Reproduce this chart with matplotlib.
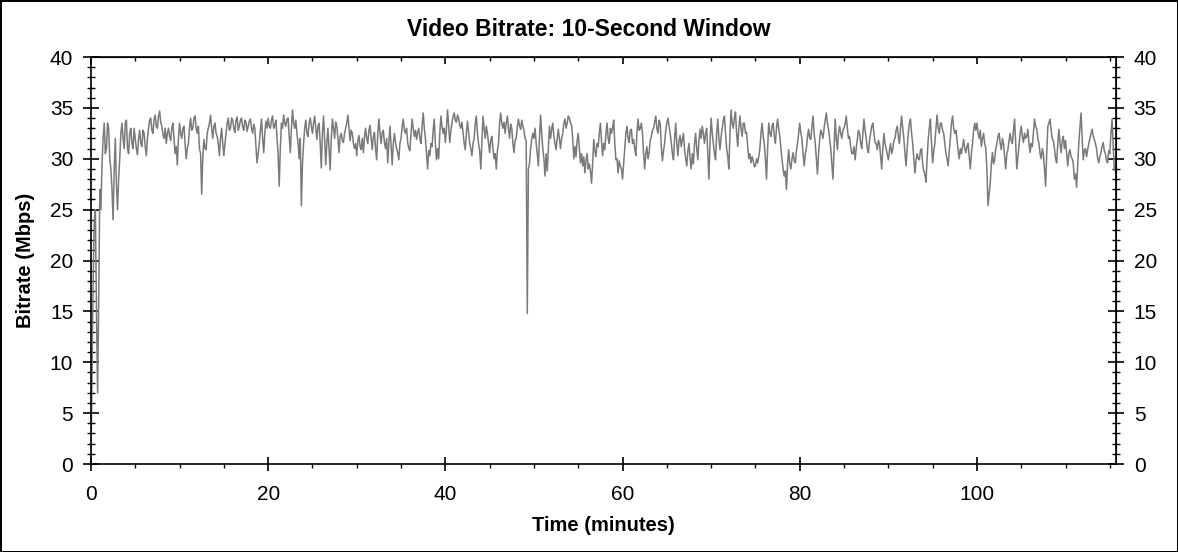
import numpy as np
import matplotlib
matplotlib.use('Agg')
import matplotlib.pyplot as plt
from matplotlib.ticker import MultipleLocator

plt.rcParams['font.family'] = ['Liberation Sans', 'DejaVu Sans']

# bitrate (Mbps); one sample every 0.25 min,
# plus the in-between samples at +0.125 min
step_minutes = 0.25
bitrate = [
    0.5, 18.0, 25.0, 7.0, 27.0, 29.5, 33.5, 31.0, 33.0, 29.0, 24.0, 32.0, 25.0, 30.0, 33.5, 31.0, 33.8, 30.5, 33.0, 31.0,
    32.0, 30.4, 32.8, 31.2, 32.5, 30.3, 33.0, 34.0, 32.5, 34.3, 33.0, 34.7, 33.2, 32.0, 31.5, 33.0, 31.8, 33.5, 30.5, 29.4,
    33.5, 32.0, 33.2, 30.0, 31.5, 34.0, 33.0, 34.2, 32.5, 31.0, 26.5, 31.9, 30.9, 33.0, 34.3, 32.0, 33.5, 32.2, 30.3, 33.0,
    30.3, 32.5, 34.0, 33.0, 33.8, 32.6, 34.1, 33.2, 34.0, 32.8, 33.6, 33.2, 33.9, 32.5, 33.0, 29.6, 31.5, 33.9, 30.6, 33.7,
    34.0, 33.0, 34.2, 33.3, 32.0, 27.3, 33.5, 34.3, 33.2, 34.0, 30.6, 34.8, 33.0, 32.5, 30.0, 25.4, 31.5, 33.8, 32.2, 34.0,
    32.5, 34.2, 31.9, 33.5, 29.1, 34.2, 29.4, 33.0, 28.9, 33.9, 32.0, 33.2, 30.6, 32.5, 31.6, 33.0, 34.3, 31.8, 32.5, 31.0,
    30.3, 32.3, 30.9, 30.6, 33.0, 31.5, 33.3, 30.9, 32.6, 29.9, 33.9, 31.5, 32.8, 31.0, 29.6, 33.2, 29.4, 32.5, 31.0, 29.9,
    32.0, 33.9, 32.5, 31.6, 30.8, 33.9, 32.2, 31.9, 33.0, 31.5, 34.5, 32.0, 29.0, 30.3, 31.2, 33.9, 29.9, 30.0, 34.2, 32.5,
    31.6, 34.8, 31.6, 33.5, 34.5, 33.6, 34.0, 33.0, 32.5, 30.9, 33.7, 31.5, 30.3, 32.0, 34.2, 31.5, 29.0, 34.2, 32.0, 32.5,
    30.6, 32.2, 30.0, 29.0, 31.5, 34.5, 33.0, 32.5, 34.2, 32.0, 33.0, 30.6, 32.0, 33.9, 32.9, 33.2, 32.0, 14.8, 29.5, 31.9,
    32.0, 31.5, 29.3, 34.3, 31.0, 28.3, 28.8, 33.2, 32.9, 32.2, 30.9, 32.9, 31.0, 32.5, 33.9, 33.5, 34.0, 33.3, 30.0, 30.2,
    32.5, 29.6, 29.3, 28.6, 30.5, 29.5, 27.6, 31.9, 30.2, 31.2, 33.5, 30.3, 30.9, 33.5, 31.5, 32.5, 33.8, 29.9, 28.6, 29.3,
    28.0, 31.0, 33.2, 31.6, 32.9, 31.9, 30.3, 33.9, 33.0, 32.5, 29.0, 31.2, 30.6, 32.2, 33.0, 34.2, 32.5, 33.5, 29.8, 31.5,
    33.5, 33.2, 31.6, 29.9, 33.5, 30.3, 32.3, 31.9, 30.9, 29.3, 31.5, 29.0, 29.5, 32.5, 29.9, 32.9, 33.2, 31.5, 33.0, 28.0,
    34.0, 31.5, 29.9, 33.9, 30.9, 33.0, 34.2, 31.0, 29.0, 34.8, 33.0, 34.6, 31.2, 34.2, 32.2, 33.5, 32.6, 30.0, 29.6, 29.8,
    29.3, 29.6, 31.0, 33.5, 31.5, 28.0, 33.5, 32.2, 33.5, 31.5, 33.9, 32.2, 29.9, 28.3, 27.0, 30.9, 29.0, 30.6, 29.6, 31.5,
    33.5, 32.0, 29.3, 31.0, 32.9, 31.9, 34.2, 31.5, 28.5, 31.9, 32.5, 33.0, 34.5, 32.9, 31.0, 28.0, 33.9, 30.9, 33.2, 32.0,
    33.0, 34.2, 32.0, 31.2, 30.5, 29.9, 31.9, 32.5, 31.0, 33.9, 32.0, 30.6, 32.5, 33.5, 31.6, 30.9, 31.5, 29.0, 32.5, 31.0,
    29.9, 31.5, 30.9, 32.0, 33.2, 31.5, 34.2, 32.0, 29.3, 32.5, 33.9, 31.5, 28.6, 30.5, 29.9, 31.0, 28.8, 27.7, 31.9, 33.9,
    29.6, 31.5, 34.3, 32.5, 33.5, 32.5, 30.5, 29.3, 32.0, 34.2, 32.5, 31.9, 30.0, 30.5, 31.9, 30.6, 31.5, 29.0, 31.5, 33.5,
    33.5, 32.0, 31.2, 32.5, 31.0, 25.4, 27.6, 30.6, 29.9, 31.5, 32.5, 30.9, 31.5, 29.0, 30.9, 32.5, 31.5, 33.9, 29.0, 31.5,
    33.2, 31.6, 32.0, 32.9, 30.6, 31.2, 33.9, 32.9, 31.5, 30.0, 30.5, 27.3, 33.2, 33.9, 32.0, 31.0, 29.6, 32.9, 30.6, 32.2,
    31.8, 29.3, 30.9, 30.0, 28.0, 27.2, 31.6, 34.5, 29.9, 31.0, 30.9, 32.0, 32.9, 31.9, 31.0, 29.6, 30.6, 31.6, 30.5, 29.6,
    30.5, 33.9, 29.0, 28.5,
]
bitrate_between = [
    9.0, 24.0, 15.0, 16.0, 25.0, 32.0, 30.5, 33.5, 30.0, 27.0, 29.0, 27.5, 28.0, 32.5, 32.0, 33.5, 31.0, 32.5, 31.5, 33.0,
    31.0, 32.0, 31.5, 32.8, 31.2, 32.0, 33.8, 32.8, 33.9, 33.2, 34.2, 33.6, 32.4, 33.0, 32.5, 32.2, 33.0, 32.0, 31.2, 32.0,
    32.5, 33.0, 31.5, 31.0, 33.0, 32.8, 34.0, 33.0, 33.2, 30.5, 30.2, 31.0, 32.5, 33.5, 33.0, 33.2, 32.5, 31.5, 32.0, 31.5,
    31.5, 33.5, 32.8, 34.0, 33.0, 33.8, 32.8, 33.8, 33.1, 33.8, 32.7, 33.7, 33.0, 33.4, 31.2, 30.5, 32.8, 32.0, 32.5, 33.0,
    33.2, 33.8, 33.0, 33.8, 30.5, 31.0, 33.0, 33.5, 33.9, 32.2, 33.0, 33.5, 33.8, 31.5, 32.0, 29.5, 33.0, 32.5, 33.5, 33.2,
    33.5, 33.0, 33.2, 31.5, 32.5, 32.0, 31.5, 31.0, 32.0, 33.0, 33.6, 32.0, 32.2, 31.8, 32.5, 33.5, 33.0, 32.8, 31.5, 31.5,
    31.8, 31.2, 32.0, 32.2, 32.0, 32.8, 32.0, 32.2, 31.0, 32.5, 32.5, 32.6, 31.6, 32.0, 31.5, 31.2, 31.5, 31.6, 30.6, 31.5,
    33.2, 32.8, 33.0, 31.0, 32.5, 33.0, 32.8, 32.6, 32.0, 33.2, 33.0, 30.5, 30.8, 31.5, 32.8, 31.5, 31.0, 32.5, 33.2, 33.0,
    33.0, 33.2, 32.8, 34.2, 33.8, 34.3, 33.3, 33.6, 31.5, 32.5, 32.6, 31.0, 31.5, 33.5, 32.5, 30.8, 31.5, 33.0, 33.2, 31.5,
    31.8, 31.0, 30.5, 30.8, 33.5, 33.5, 33.6, 33.5, 33.0, 33.4, 31.5, 31.8, 33.2, 33.2, 33.8, 32.8, 31.8, 29.0, 31.0, 32.5,
    33.0, 30.5, 32.0, 32.5, 30.0, 30.5, 31.0, 32.0, 33.5, 31.5, 32.0, 32.0, 32.0, 33.5, 33.0, 34.2, 33.5, 32.0, 31.2, 31.8,
    31.0, 30.5, 30.2, 29.8, 29.0, 28.8, 29.5, 30.8, 31.5, 32.5, 31.8, 31.5, 32.5, 32.0, 33.0, 33.0, 31.5, 30.0, 29.8, 29.0,
    29.5, 32.5, 32.0, 32.8, 31.5, 31.0, 32.5, 32.8, 33.5, 30.5, 30.5, 30.0, 31.8, 32.8, 33.6, 33.0, 33.8, 31.2, 30.8, 32.8,
    34.0, 32.5, 30.5, 32.0, 31.5, 31.8, 31.2, 32.5, 30.0, 30.8, 30.0, 30.5, 31.5, 31.0, 31.8, 32.0, 32.5, 32.5, 30.5, 31.5,
    32.5, 30.5, 32.5, 32.0, 32.2, 33.8, 32.5, 30.2, 32.5, 33.5, 34.0, 32.5, 33.0, 33.0, 33.5, 32.5, 31.2, 30.5, 30.2, 29.2,
    30.0, 30.2, 32.5, 32.2, 30.0, 31.0, 32.5, 33.2, 32.2, 33.0, 33.0, 31.0, 29.0, 28.8, 29.5, 29.5, 30.0, 29.8, 30.8, 32.5,
    32.5, 30.5, 30.5, 32.2, 32.0, 33.2, 32.5, 30.0, 30.5, 32.8, 32.0, 33.8, 33.5, 32.0, 29.5, 31.0, 32.0, 32.5, 32.5, 32.8,
    33.5, 33.0, 32.2, 30.5, 31.2, 31.0, 32.8, 31.5, 32.5, 32.8, 31.0, 31.8, 33.2, 32.5, 31.5, 31.8, 30.2, 31.0, 31.5, 30.5,
    30.8, 30.5, 31.8, 32.8, 32.2, 33.0, 33.0, 30.5, 31.0, 33.5, 32.5, 30.0, 29.8, 30.0, 30.8, 29.5, 28.5, 30.0, 33.0, 31.5,
    30.8, 33.0, 33.0, 33.5, 32.8, 31.5, 30.0, 30.8, 33.5, 33.0, 32.8, 30.8, 31.0, 31.2, 31.0, 31.2, 30.2, 30.5, 32.8, 32.8,
    32.5, 32.8, 32.0, 31.5, 29.0, 26.5, 29.5, 29.5, 31.0, 32.2, 31.5, 32.0, 30.2, 30.5, 31.8, 31.8, 32.8, 31.5, 30.2, 32.5,
    32.2, 32.5, 32.2, 31.5, 31.5, 32.5, 33.2, 32.0, 30.5, 31.0, 29.0, 30.5, 33.5, 32.8, 31.8, 30.0, 31.5, 31.5, 31.8, 31.0,
    30.5, 30.5, 30.2, 29.5, 28.5, 29.5, 33.0, 32.0, 30.8, 30.2, 31.5, 32.5, 32.2, 31.5, 30.0, 30.2, 31.2, 30.8, 29.8, 30.8,
    32.5, 31.5, 28.8,
]

t_on = np.arange(len(bitrate)) * step_minutes
t_mid = np.arange(len(bitrate_between)) * step_minutes + step_minutes / 2
minutes = np.concatenate([t_on, t_mid])
rate = np.concatenate([bitrate, bitrate_between])
order = np.argsort(minutes)
minutes, rate = minutes[order], rate[order]

x_max = 115.7
y_ticks = [0, 5, 10, 15, 20, 25, 30, 35, 40]
x_ticks = [0, 20, 40, 60, 80, 100]

fig = plt.figure(figsize=(11.78, 5.52), dpi=100, linewidth=2, edgecolor='black')
ax = fig.add_axes([0.0772, 0.1594, 0.8702, 0.7373])

ax.plot(minutes, rate, color='#7a7a7a', linewidth=1.1)

ax.set_xlim(0, x_max)
ax.set_ylim(0, 40)
ax.set_xticks(x_ticks)
ax.set_yticks(y_ticks)
ax.xaxis.set_minor_locator(MultipleLocator(5))
ax.yaxis.set_minor_locator(MultipleLocator(1))

for s in ax.spines.values():
    s.set_linewidth(1.2)

ax.tick_params(axis='x', which='major', direction='inout', length=10, width=1.2,
               labelsize=15, pad=10, top=False)
ax.tick_params(axis='x', which='minor', direction='out', length=3, width=1, top=False)
ax.tick_params(axis='y', which='major', direction='inout', length=11.5, width=1.2,
               labelsize=15, pad=7)
ax.tick_params(axis='y', which='minor', direction='inout', length=5.5, width=1)

# top axis: inward ticks only
top = ax.secondary_xaxis('top')
top.set_xticks(x_ticks)
top.xaxis.set_minor_locator(MultipleLocator(5))
top.tick_params(which='major', direction='in', length=5, width=1.2, labeltop=False)
top.tick_params(which='minor', direction='in', length=3, width=1)

# right axis: same ticks and labels as left
right = ax.secondary_yaxis('right')
right.set_yticks(y_ticks)
right.yaxis.set_minor_locator(MultipleLocator(1))
right.tick_params(which='major', direction='inout', length=11.5, width=1.2,
                  labelsize=15, pad=7)
right.tick_params(which='minor', direction='inout', length=5.5, width=1)

fig.suptitle('Video Bitrate: 10-Second Window', fontsize=16.5, fontweight='bold',
             x=0.5, y=1 - 29 / 552, va='center')
ax.set_xlabel('Time (minutes)', fontsize=14.5, fontweight='bold', labelpad=9)
ax.set_ylabel('Bitrate (Mbps)', fontsize=14.5, fontweight='bold', labelpad=11)

fig.savefig('out.png', dpi=100, edgecolor=fig.get_edgecolor())
